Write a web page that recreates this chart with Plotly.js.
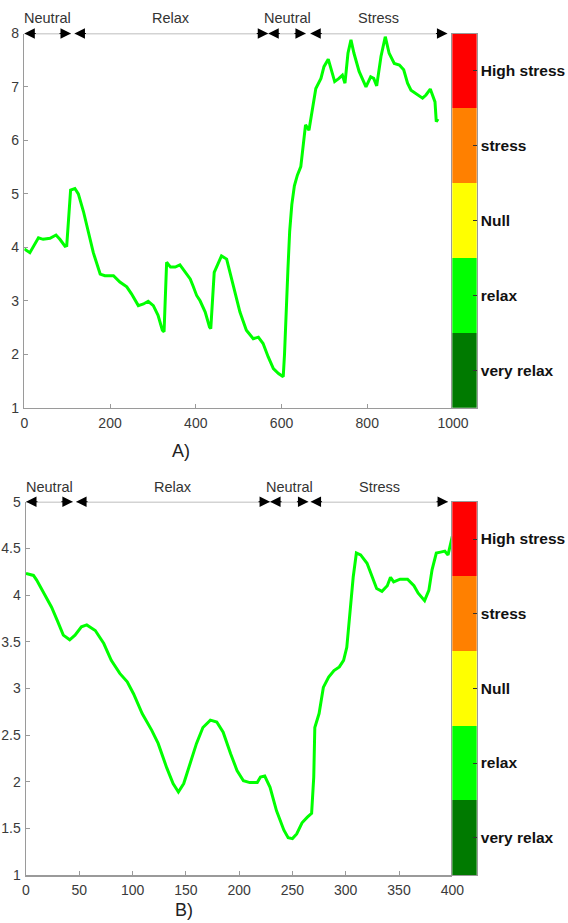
<!DOCTYPE html>
<html>
<head>
<meta charset="utf-8">
<script src="https://cdn.plot.ly/plotly-3.0.1.min.js"></script>
<style>html,body{margin:0;padding:0;background:#fff;}#chart{width:568px;height:923px;}</style>
</head>
<body>
<div id="chart"></div>
<script>
// ---- Data: chart A ----
var xA = [0,13,33,44,60,74,83,95,99,108, 118,126,138,149,161,177,188,208,223,239, 250,266,278,289,301,312,322,326,332,341, 352,363,375,387,393,402,410,422,432,435, 443,450,460,472,480,492,503,518,534,546, 557,569,581,593,604,607,611,615,619,624, 630,637,645,653,656,664,672,680,692,699, 709,717,724,734,742,748,755,762,769,781, 797,808,815,822,832,842,851,863,875,885, 894,902,914,929,937,947,958,961,965];
var yA = [3.97,3.9,4.18,4.15,4.17,4.23,4.15,4.02,4.03,5.07, 5.1,5.0,4.67,4.28,3.9,3.5,3.47,3.47,3.35,3.26, 3.13,2.91,2.94,2.99,2.91,2.73,2.45,2.42,3.72,3.63, 3.63,3.67,3.53,3.41,3.29,3.1,3.0,2.79,2.51,2.48, 3.53,3.66,3.84,3.78,3.53,3.16,2.79,2.45,2.29,2.32, 2.2,1.95,1.73,1.64,1.58,2.0,2.9,3.6,4.3,4.8, 5.15,5.35,5.51,6.01,6.29,6.19,6.57,6.97,7.16,7.38, 7.52,7.32,7.1,7.16,7.22,7.07,7.63,7.88,7.63,7.29, 7.0,7.19,7.16,7.02,7.57,7.94,7.63,7.44,7.41,7.32, 7.07,6.94,6.87,6.79,6.85,6.96,6.72,6.35,6.4];

// ---- Data: chart B ----
var xB = [0,7,10,18,24,30,35,41,46,52, 57,65,73,80,88,95,101,109,118,124, 132,138,143,148,154,160,166,173,179,185, 192,198,204,210,217,220,224,229,235,242, 246,250,254,259,264,268,270,271,275,279, 284,289,294,298,301,304,307,310,314,320, 325,329,334,339,342,345,351,358,364,368, 374,378,381,385,389,393,396,398,400];
var yB = [4.23,4.21,4.16,4.0,3.87,3.71,3.57,3.52,3.57,3.66, 3.68,3.62,3.48,3.3,3.16,3.07,2.94,2.73,2.55,2.41, 2.15,1.98,1.89,1.98,2.19,2.41,2.58,2.66,2.64,2.53, 2.3,2.12,2.01,1.99,1.99,2.05,2.06,1.94,1.69,1.48, 1.4,1.39,1.44,1.56,1.62,1.66,2.05,2.58,2.73,3.01, 3.12,3.19,3.23,3.3,3.44,3.8,4.19,4.45,4.43,4.34, 4.19,4.07,4.04,4.1,4.19,4.14,4.17,4.17,4.1,4.02, 3.94,4.05,4.27,4.45,4.46,4.47,4.43,4.54,4.63];

// ---- Phase segments (start, end) and labels ----
var phaseLabels = ['Neutral','Relax','Neutral','Stress'];
var phasesA = [[0,109],[117,569],[569,657],[667,987]];
var phasesB = [[0,44],[47,229],[229,265],[267,396]];

// ---- Colour scale levels ----
var levels = ['very relax','relax','Null','stress','High stress'];
var levelColors = ['#007a00','#00ff00','#ffff00','#ff8000','#ff0000'];
var levelSize = [1,1,1,1,1];

// ---- Tick values ----
var xTicksA = [0,200,400,600,800,1000];
var yTicksA = [1,2,3,4,5,6,7,8];
var xTicksB = [0,50,100,150,200,250,300,350,400];
var yTicksB = [1,1.5,2,2.5,3,3.5,4,4.5,5];

var FONT = 'Liberation Sans, Arial, sans-serif';
var axColor = '#9a9a9a';
var tickFont = {family: FONT, size: 14, color: '#3a3a3a'};

function mainAxis(range, ticks, domain, anchor, isX) {
  return {
    domain: domain, range: range, anchor: anchor,
    tickvals: ticks, ticks: 'inside', ticklen: 4, tickcolor: axColor,
    ticklabelstandoff: isX ? 2 : 1,
    showline: true, linecolor: axColor, linewidth: 1.5,
    showgrid: false, zeroline: false, tickfont: tickFont, fixedrange: true
  };
}
function barXAxis(domain, anchor) {
  return {domain: domain, range: [0,1], anchor: anchor, showticklabels: false, ticks: '',
          showgrid: false, zeroline: false, showline: true, linecolor: '#999', linewidth: 1, mirror: true};
}
function barYAxis(domain, anchor) {
  return {domain: domain, anchor: anchor, type: 'category', side: 'right',
          categoryorder: 'array', categoryarray: levels,
          ticks: 'inside', ticklen: 4, tickcolor: '#333',
          showgrid: false, zeroline: false, showline: true, linecolor: '#999', linewidth: 1, mirror: true,
          tickfont: {family: FONT, size: 15.5, color: '#111', weight: 'bold'}};
}

var traces = [
  {x: xA, y: yA, type: 'scatter', mode: 'lines', line: {color: '#00ff00', width: 3}, xaxis: 'x', yaxis: 'y', hoverinfo: 'none'},
  {x: xB, y: yB, type: 'scatter', mode: 'lines', line: {color: '#00ff00', width: 3}, xaxis: 'x2', yaxis: 'y2', hoverinfo: 'none'},
  {x: levelSize, y: levels, type: 'bar', orientation: 'h', marker: {color: levelColors, line: {width: 0}}, xaxis: 'x3', yaxis: 'y3', hoverinfo: 'none'},
  {x: levelSize, y: levels, type: 'bar', orientation: 'h', marker: {color: levelColors, line: {width: 0}}, xaxis: 'x4', yaxis: 'y4', hoverinfo: 'none'}
];

var shapes = [];
var annotations = [];
function addPhases(phases, xr, yr, yTop) {
  phases.forEach(function(p, i) {
    shapes.push({type: 'line', xref: xr, yref: yr, x0: p[0], x1: p[1], y0: yTop, y1: yTop,
                 line: {color: '#a8a8a8', width: 1.5}, layer: 'above'});
    annotations.push({xref: xr, yref: yr, x: p[1], y: yTop, ax: -13, ay: 0, text: '',
                      showarrow: true, arrowhead: 2, arrowsize: 2.1, arrowwidth: 1, arrowcolor: '#000'});
    annotations.push({xref: xr, yref: yr, x: p[0], y: yTop, ax: 13, ay: 0, text: '',
                      showarrow: true, arrowhead: 2, arrowsize: 2.1, arrowwidth: 1, arrowcolor: '#000'});
    annotations.push({xref: xr, yref: yr, x: (p[0] + p[1]) / 2, y: yTop, yanchor: 'middle', yshift: 15,
                      text: phaseLabels[i], showarrow: false, font: {family: FONT, size: 14.5, color: '#333'}});
  });
}
addPhases(phasesA, 'x', 'y', 8);
addPhases(phasesB, 'x2', 'y2', 5);

annotations.push({xref: 'paper', yref: 'paper', x: 181/568, y: 1 - 451/923, yanchor: 'middle', xanchor: 'center',
                  text: 'A)', showarrow: false, font: {family: FONT, size: 18, color: '#222'}});
annotations.push({xref: 'paper', yref: 'paper', x: 184/568, y: 1 - 910/923, yanchor: 'middle', xanchor: 'center',
                  text: 'B)', showarrow: false, font: {family: FONT, size: 18, color: '#222'}});

var domXA = [24.3/568, 453/568];
var domXB = [26/568, 452.3/568];
var domBar = [452.3/568, 476.7/568];
var domYA = [1 - 407.7/923, 1 - 33.5/923];
var domYB = [1 - 875/923, 1 - 501.7/923];

var layout = {
  width: 568, height: 923,
  margin: {l: 0, r: 0, t: 0, b: 0},
  paper_bgcolor: '#fff', plot_bgcolor: 'rgba(0,0,0,0)',
  showlegend: false, bargap: 0,
  font: {family: FONT},
  xaxis: mainAxis([0,1000], xTicksA, domXA, 'y', true),
  yaxis: mainAxis([1,8], yTicksA, domYA, 'x', false),
  xaxis2: mainAxis([0,400], xTicksB, domXB, 'y2', true),
  yaxis2: mainAxis([1,5], yTicksB, domYB, 'x2', false),
  xaxis3: barXAxis(domBar, 'y3'),
  yaxis3: barYAxis(domYA, 'x3'),
  xaxis4: barXAxis(domBar, 'y4'),
  yaxis4: barYAxis(domYB, 'x4'),
  shapes: shapes,
  annotations: annotations
};

Plotly.newPlot('chart', traces, layout, {staticPlot: true, displayModeBar: false});
</script>
</body>
</html>
